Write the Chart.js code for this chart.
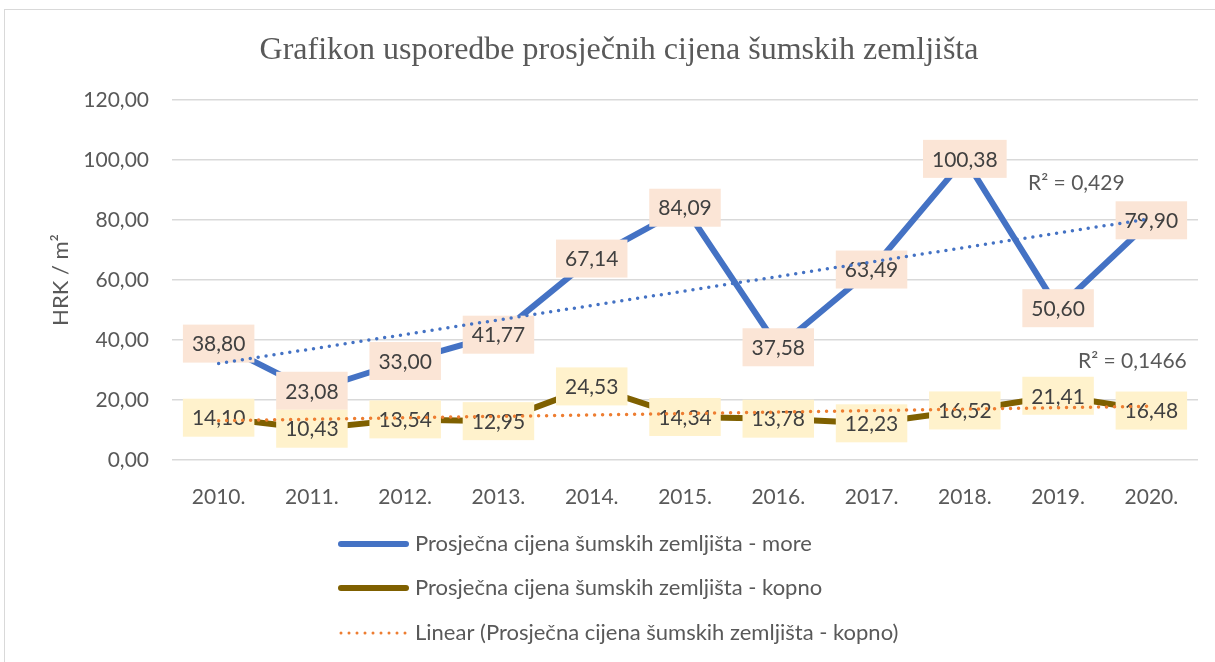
<!DOCTYPE html>
<html>
<head>
<meta charset="utf-8">
<script src="https://cdn.jsdelivr.net/npm/chart.js@4.4.0/dist/chart.umd.min.js"></script>
<style>
html, body { margin: 0; padding: 0; background: #fff; }
</style>
</head>
<body>
<canvas id="grafikon" width="1215" height="662"></canvas>
<script>
// godine i prosječne cijene šumskih zemljišta (HRK / m2)
var godine = ['2010.', '2011.', '2012.', '2013.', '2014.', '2015.', '2016.', '2017.', '2018.', '2019.', '2020.'];
var cijeneMore = [38.80, 23.08, 33.00, 41.77, 67.14, 84.09, 37.58, 63.49, 100.38, 50.60, 79.90];
var cijeneKopno = [14.10, 10.43, 13.54, 12.95, 24.53, 14.34, 13.78, 12.23, 16.52, 21.41, 16.48];
// početak i kraj linearnih trendova (očitano s grafa)
var trendMore = [32.2, 80.5];
var trendKopno = [13.1, 17.9];
var r2More = 'R² = 0,429';
var r2Kopno = 'R² = 0,1466';

var zadnji = godine.length - 1;
function trendNiz(krajevi) {
    return godine.map(function (g, i) {
        if (i === 0) return krajevi[0];
        if (i === zadnji) return krajevi[1];
        return null;
    });
}
function hrBroj(v) {
    return v.toFixed(2).replace('.', ',');
}

var okvirPlugin = {
    id: 'okvir',
    beforeDraw: function (chart) {
        var ctx = chart.ctx;
        ctx.save();
        ctx.fillStyle = '#fff';
        ctx.fillRect(0, 0, chart.width, chart.height);
        ctx.strokeStyle = '#D9D9D9';
        ctx.lineWidth = 1;
        ctx.strokeRect(4.5, 9.5, 1300, 800);
        ctx.restore();
    }
};

// oznake vrijednosti s pozadinom, crtaju se prije linija trenda
var oznakePlugin = {
    id: 'oznake',
    afterDatasetDraw: function (chart, args) {
        if (args.index !== 1) return;
        var ctx = chart.ctx;
        ctx.save();
        ctx.font = '21px Lato';
        ctx.textAlign = 'center';
        ctx.textBaseline = 'middle';
        [0, 1].forEach(function (di) {
            var ds = chart.data.datasets[di];
            chart.getDatasetMeta(di).data.forEach(function (pt, i) {
                var txt = hrBroj(ds.data[i]);
                var w = ctx.measureText(txt).width + 18, h = 38;
                ctx.fillStyle = ds.pozadina;
                ctx.fillRect(pt.x - w / 2, pt.y - h / 2, w, h);
                ctx.fillStyle = '#404040';
                ctx.fillText(txt, pt.x, pt.y + 1);
            });
        });
        ctx.restore();
    }
};

var r2Plugin = {
    id: 'r2',
    afterDatasetsDraw: function (chart) {
        var ctx = chart.ctx, x = chart.scales.x, y = chart.scales.y;
        ctx.save();
        ctx.font = '21px Lato';
        ctx.fillStyle = '#595959';
        ctx.textAlign = 'center';
        ctx.textBaseline = 'middle';
        ctx.fillText(r2More, x.getPixelForValue(zadnji) - 75, y.getPixelForValue(92.3));
        ctx.fillText(r2Kopno, x.getPixelForValue(zadnji) - 19, y.getPixelForValue(33));
        ctx.restore();
    }
};

var legendaPlugin = {
    id: 'legenda',
    afterDraw: function (chart) {
        var ctx = chart.ctx;
        var stavke = [
            { tekst: 'Prosječna cijena šumskih zemljišta - more', boja: '#4472C4', tocke: false, y: 544 },
            { tekst: 'Prosječna cijena šumskih zemljišta - kopno', boja: '#7F6000', tocke: false, y: 588 },
            { tekst: 'Linear (Prosječna cijena šumskih zemljišta - kopno)', boja: '#ED7D31', tocke: true, y: 633 }
        ];
        ctx.save();
        ctx.font = '22px Lato';
        ctx.textBaseline = 'middle';
        stavke.forEach(function (s) {
            ctx.beginPath();
            ctx.strokeStyle = s.boja;
            ctx.lineCap = 'round';
            if (s.tocke) {
                ctx.lineWidth = 3;
                ctx.setLineDash([0, 8]);
            } else {
                ctx.lineWidth = 6;
                ctx.setLineDash([]);
            }
            ctx.moveTo(341, s.y);
            ctx.lineTo(406, s.y);
            ctx.stroke();
            ctx.fillStyle = '#595959';
            ctx.fillText(s.tekst, 415, s.y);
        });
        ctx.restore();
    }
};

new Chart(document.getElementById('grafikon'), {
    type: 'line',
    data: {
        labels: godine,
        datasets: [{
            label: 'Prosječna cijena šumskih zemljišta - more',
            data: cijeneMore,
            borderColor: '#4472C4',
            borderWidth: 6,
            pointRadius: 0,
            pozadina: '#FBE5D6',
            order: 4
        }, {
            label: 'Prosječna cijena šumskih zemljišta - kopno',
            data: cijeneKopno,
            borderColor: '#7F6000',
            borderWidth: 6,
            pointRadius: 0,
            pozadina: '#FFF2CC',
            order: 3
        }, {
            label: 'Linear (Prosječna cijena šumskih zemljišta - more)',
            data: trendNiz(trendMore),
            borderColor: '#4472C4',
            borderWidth: 3.5,
            borderDash: [0, 8],
            borderCapStyle: 'round',
            spanGaps: true,
            pointRadius: 0,
            order: 2
        }, {
            label: 'Linear (Prosječna cijena šumskih zemljišta - kopno)',
            data: trendNiz(trendKopno),
            borderColor: '#ED7D31',
            borderWidth: 3.5,
            borderDash: [0, 8],
            borderCapStyle: 'round',
            spanGaps: true,
            pointRadius: 0,
            order: 1
        }]
    },
    options: {
        responsive: false,
        animation: false,
        devicePixelRatio: 1,
        layout: {
            padding: { left: 40, right: 17, top: 0, bottom: 142 }
        },
        scales: {
            x: {
                offset: true,
                grid: { display: false },
                border: { display: false },
                ticks: { color: '#595959', font: { family: 'Lato', size: 21 }, padding: 17 },
                afterFit: function (s) { s.height = 60; }
            },
            y: {
                min: 0,
                max: 120,
                ticks: {
                    stepSize: 20,
                    color: '#595959',
                    font: { family: 'Lato', size: 21 },
                    padding: 23,
                    callback: function (v) { return hrBroj(v); }
                },
                grid: { color: '#D9D9D9', lineWidth: 1.5, drawTicks: false },
                border: { display: false },
                title: {
                    display: true,
                    text: 'HRK / m²',
                    color: '#595959',
                    font: { family: 'Lato', size: 22 },
                    padding: { top: 8, bottom: 0 }
                },
                afterFit: function (s) { s.width = 132; }
            }
        },
        plugins: {
            legend: { display: false },
            tooltip: { enabled: false },
            title: {
                display: true,
                text: 'Grafikon usporedbe prosječnih cijena šumskih zemljišta',
                color: '#595959',
                font: { family: 'Liberation Serif', size: 32, weight: 'normal', lineHeight: 1.2 },
                padding: { top: 31, bottom: 30.6 }
            }
        }
    },
    plugins: [okvirPlugin, oznakePlugin, r2Plugin, legendaPlugin]
});
</script>
</body>
</html>
